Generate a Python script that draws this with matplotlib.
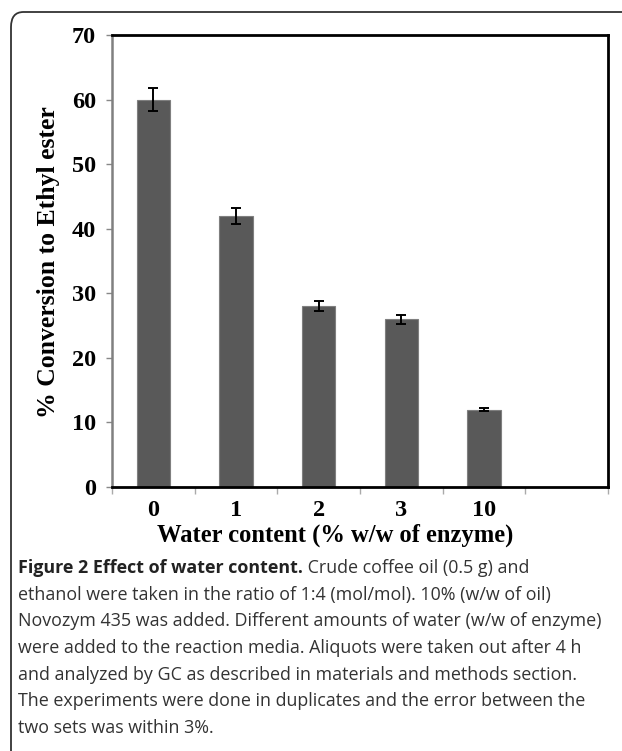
import numpy as np
import matplotlib.pyplot as plt
from matplotlib.patches import FancyBboxPatch

# water content (% w/w of enzyme) and conversion to ethyl ester
water = ['0', '1', '2', '3', '10']
conversion = [60, 42, 28, 26, 12]
err = [1.8, 1.2, 0.8, 0.7, 0.3]

caption_bold = 'Figure 2 Effect of water content.'
caption_lines = [
    ' Crude coffee oil (0.5 g) and',
    'ethanol were taken in the ratio of 1:4 (mol/mol). 10% (w/w of oil)',
    'Novozym 435 was added. Different amounts of water (w/w of enzyme)',
    'were added to the reaction media. Aliquots were taken out after 4 h',
    'and analyzed by GC as described in materials and methods section.',
    'The experiments were done in duplicates and the error between the',
    'two sets was within 3%.',
]

serif = 'Liberation Serif'
sans = 'Open Sans'

fig = plt.figure(figsize=(6.22, 7.51), dpi=100)

# rounded frame round the figure panel
frame = FancyBboxPatch((11/622, -0.1), 1.2, 1 - 12/751 + 0.1,
                       boxstyle='round,pad=0,rounding_size=0.02',
                       transform=fig.transFigure, fill=False,
                       ec='#333333', lw=1.3)
fig.patches.append(frame)

ax = fig.add_axes([112/622, 1 - 487/751, 496/622, 452/751])
x = np.arange(len(water))
ax.bar(x, conversion, width=0.4, color='#595959', edgecolor='#7f7f7f', lw=0.8, zorder=2)
ax.errorbar(x, conversion, yerr=err, fmt='none', ecolor='black',
            elinewidth=1.4, capsize=3.5, capthick=1.4, zorder=3)

ax.set_xlim(-0.5, 5.5)
ax.set_ylim(0, 70)
ax.set_yticks(range(0, 71, 10))
ax.set_yticklabels([str(v) for v in range(0, 71, 10)],
                   fontfamily=serif, fontweight='bold', fontsize=17.5)
ax.tick_params(axis='y', direction='out', length=4, width=1, color='#888888', pad=7.5)

ax.set_xticks(np.arange(-0.5, 6.0, 1.0))
ax.set_xticklabels([])
ax.tick_params(axis='x', which='major', direction='out', length=5, width=1, color='#aaaaaa')
ax.set_xticks(x, minor=True)
ax.set_xticklabels(water, minor=True, fontfamily=serif, fontweight='bold', fontsize=17.5)
ax.tick_params(axis='x', which='minor', length=0, pad=9)

for s in ['top', 'right', 'bottom']:
    ax.spines[s].set_color('black')
    ax.spines[s].set_linewidth(2)
ax.spines['left'].set_color('#808080')
ax.spines['left'].set_linewidth(1.8)

fig.text(49/622, 1 - 262/751, '% Conversion to Ethyl ester', fontfamily=serif,
         fontweight='bold', fontsize=18.5, rotation=90, ha='center', va='center')
fig.text(335/622, 1 - 535/751, 'Water content (% w/w of enzyme)', fontfamily=serif,
         fontweight='bold', fontsize=17.7, ha='center', va='center')

# caption text
fs = 12.9
y0 = 568
step = 26.7
t = fig.text(18/622, 1 - y0/751, caption_bold, fontfamily=sans, fontweight='bold',
             fontsize=fs, ha='left', va='center', color='#222222')
fig.canvas.draw()
bb = t.get_window_extent()
fig.text(bb.x1 / fig.bbox.width, 1 - y0/751, caption_lines[0], fontfamily=sans,
         fontsize=fs, ha='left', va='center', color='#333333')
for i, line in enumerate(caption_lines[1:], start=1):
    fig.text(18/622, 1 - (y0 + i*step)/751, line, fontfamily=sans,
             fontsize=fs, ha='left', va='center', color='#333333')

fig.savefig('out.png', dpi=100)
